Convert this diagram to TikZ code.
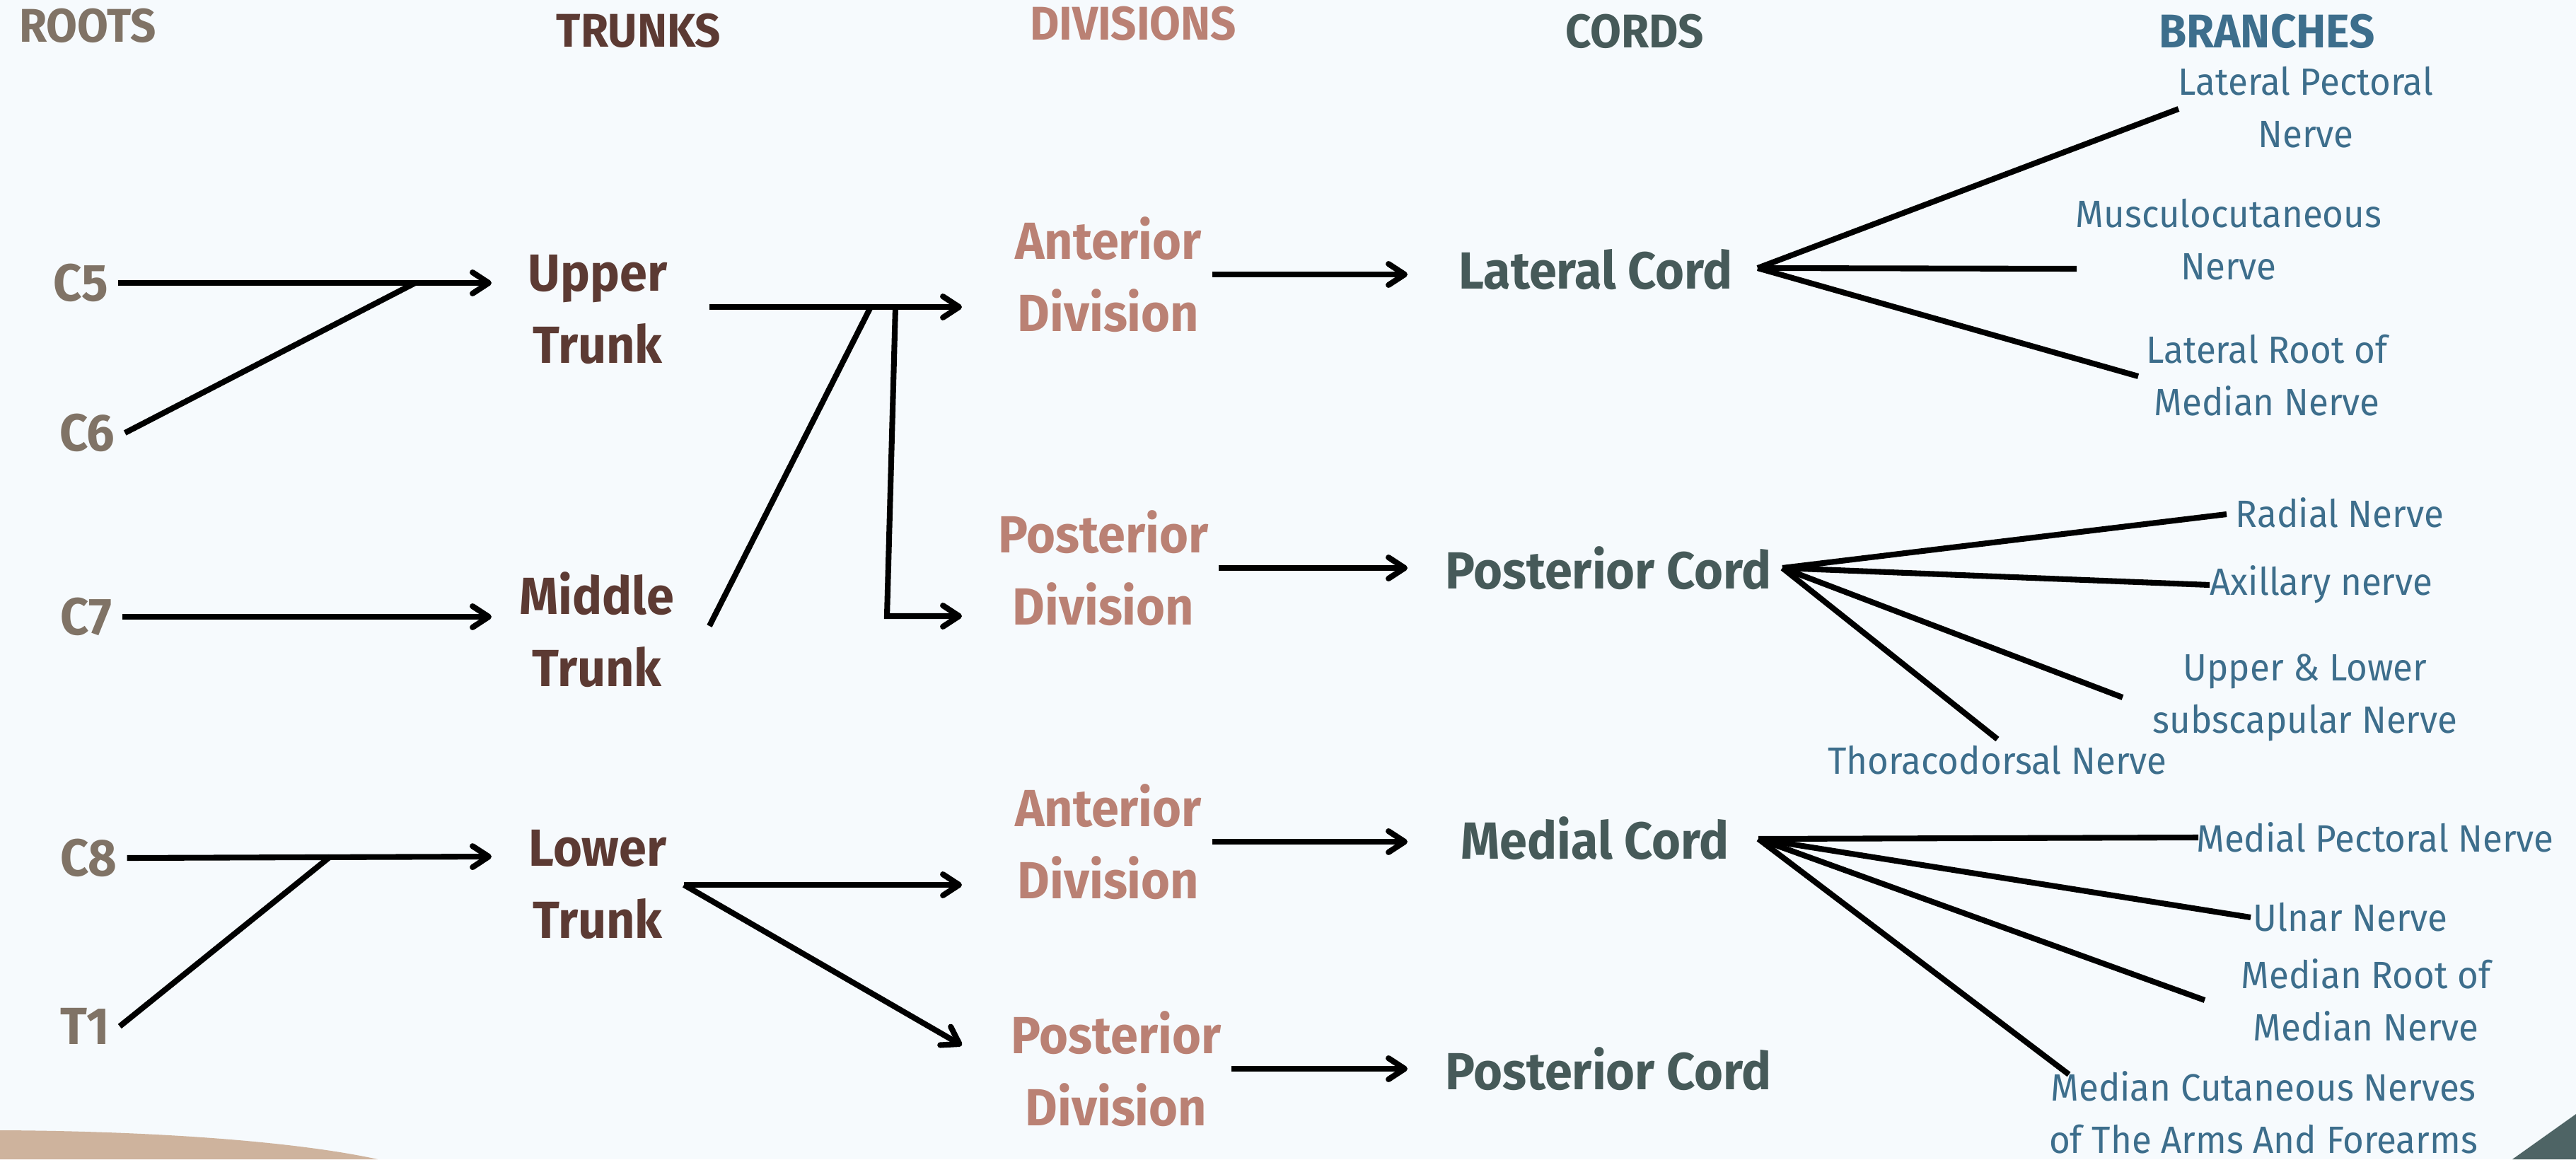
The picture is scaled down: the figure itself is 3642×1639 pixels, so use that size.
\documentclass[tikz,border=0pt]{standalone}
\usepackage{fontspec}
\setmainfont{Fira Sans}[FakeStretch=0.95]
\usepackage{tikz}
\usetikzlibrary{positioning,arrows.meta,calc}
\usepackage{xcolor}
\definecolor{PaperBlue}{HTML}{F6FAFD}
\definecolor{RootGrey}{HTML}{807366}
\definecolor{TrunkBrown}{HTML}{5C3A33}
\definecolor{DivisionRose}{HTML}{BA8174}
\definecolor{CordSlate}{HTML}{465A59}
\definecolor{BranchBlue}{HTML}{3D6E8C}
\definecolor{SandBeige}{HTML}{CEB39D}
\definecolor{CornerSlate}{HTML}{4E6465}

\begin{document}
\begin{tikzpicture}[x=0.01cm, y=-0.01cm,
    heading/.style={font=\bfseries\fontsize{19}{23}\selectfont, inner sep=0pt},
    stage/.style={font=\bfseries\fontsize{21}{29}\selectfont, align=center, inner sep=4pt},
    branch/.style={font=\fontsize{15.3}{21}\selectfont, text=BranchBlue, align=center, inner sep=0pt},
    nerve/.style={line width=2.3pt},
    feed/.style={line width=2.3pt, -{Straight Barb[length=6.5pt, width=8.5pt, round]}}]
  \fill[PaperBlue] (0, 0) rectangle (3642, 1639);
  \useasboundingbox (0, 0) rectangle (3642, 1639);
  \fill[SandBeige] (0, 1598) .. controls (220, 1599) and (420, 1614) .. (534, 1639) -- (0, 1639) -- cycle;
  \fill[CornerSlate] (3552, 1639) -- (3642, 1575) -- (3642, 1639) -- cycle;

  \node[heading, text=RootGrey] (h0) at (124, 36) {ROOTS};
  \node[heading, text=TrunkBrown] (h1) at (903, 43) {TRUNKS};
  \node[heading, text=DivisionRose] (h2) at (1602, 33) {DIVISIONS};
  \node[heading, text=CordSlate] (h3) at (2311, 44) {CORDS};
  \node[heading, text=BranchBlue] (h4) at (3205, 44) {BRANCHES};

  \node[stage, text=RootGrey] (r1) at (114, 400) {C5};
  \node[stage, text=RootGrey] (r2) at (123, 612) {C6};
  \node[stage, text=RootGrey] (r3) at (122, 872) {C7};
  \node[stage, text=RootGrey] (r4) at (125, 1213) {C8};
  \node[stage, text=RootGrey] (r5) at (120, 1451) {T1};

  \node[stage, text=TrunkBrown] (t1) at (845, 438) {Upper\\Trunk};
  \node[stage, text=TrunkBrown] (t2) at (844, 890) {Middle\\Trunk};
  \node[stage, text=TrunkBrown] (t3) at (845, 1251) {Lower\\Trunk};

  \node[stage, text=DivisionRose] (d1) at (1567, 388) {Anterior\\Division};
  \node[stage, text=DivisionRose] (d2) at (1560, 803) {Posterior\\Division};
  \node[stage, text=DivisionRose] (d3) at (1567, 1190) {Anterior\\Division};
  \node[stage, text=DivisionRose] (d4) at (1578, 1511) {Posterior\\Division};

  \node[stage, text=CordSlate] (c1) at (2256, 381) {Lateral Cord};
  \node[stage, text=CordSlate] (c2) at (2274, 803) {Posterior Cord};
  \node[stage, text=CordSlate] (c3) at (2255, 1185) {Medial Cord};
  \node[stage, text=CordSlate] (c4) at (2274, 1511) {Posterior Cord};

  \node[branch] (b11) at (3260, 152) {Lateral Pectoral\\Nerve};
  \node[branch] (b12) at (3151, 339) {Musculocutaneous\\Nerve};
  \node[branch] (b13) at (3205, 531) {Lateral Root of\\Median Nerve};
  \node[branch] (b21) at (3308, 725) {Radial Nerve};
  \node[branch] (b22) at (3282, 826) {Axillary nerve};
  \node[branch] (b23) at (3259, 986) {Upper \& Lower\\subscapular Nerve};
  \node[branch] (b24) at (2824, 1075) {Thoracodorsal Nerve};
  \node[branch] (b31) at (3358, 1184) {Medial Pectoral Nerve};
  \node[branch] (b32) at (3323, 1297) {Ulnar Nerve};
  \node[branch] (b33) at (3345, 1414) {Median Root of\\Median Nerve};
  \node[branch] (b34) at (3200, 1573) {Median Cutaneous Nerves\\of The Arms And Forearms};

  \coordinate (j1) at (587, 400);
  \coordinate (j2) at (467, 1211);
  \coordinate (t1in) at (695, 400);
  \coordinate (t2in) at (695, 872);
  \coordinate (t3in) at (695, 1211);
  \draw[feed] (r1.east) -- (t1in);
  \draw[nerve] (r2.east) -- (j1);
  \draw[feed] (r3.east) -- (t2in);
  \draw[feed] (r4.east) -- (t3in);
  \draw[nerve] (r5.east) -- (j2);

  \coordinate (t1out) at (1003, 434);
  \coordinate (t2out) at (1003, 885);
  \coordinate (t3out) at (967, 1251);
  \coordinate (j3) at (1231, 434);
  \coordinate (j4) at (1266, 434);
  \coordinate (j5) at (1254, 871);
  \coordinate (d1in) at (1360, 434);
  \coordinate (d2in) at (1360, 871);
  \coordinate (d3in) at (1360, 1251);
  \coordinate (d4in) at (1360, 1478);
  \draw[feed] (t1out) -- (d1in);
  \draw[nerve] (t2out) -- (j3);
  \draw[feed] (j4) -- (j5) -- (d2in);
  \draw[feed] (t3out) -- (d3in);
  \draw[feed] (t3out) -- (d4in);

  \coordinate (c1in) at (1990, 388);
  \coordinate (c2in) at (1990, 803);
  \coordinate (c3in) at (1990, 1190);
  \coordinate (c4in) at (1990, 1511);
  \draw[feed] (d1.east) -- (c1in);
  \draw[feed] (d2.east) -- (c2in);
  \draw[feed] (d3.east) -- (c3in);
  \draw[feed] (d4.east) -- (c4in);

  \coordinate (c1out) at (2485, 379);
  \coordinate (b11in) at (3080, 154);
  \coordinate (b12in) at (2936, 380);
  \coordinate (b13in) at (3023, 532);
  \draw[nerve] (c1out) -- (b11in);
  \draw[nerve] (c1out) -- (b12in);
  \draw[nerve] (c1out) -- (b13in);

  \coordinate (c2out) at (2520, 803);
  \coordinate (b21in) at (3148, 727);
  \coordinate (b22in) at (3124, 827);
  \coordinate (b23in) at (3001, 986);
  \coordinate (b24in) at (2824, 1045);
  \draw[nerve] (c2out) -- (b21in);
  \draw[nerve] (c2out) -- (b22in);
  \draw[nerve] (c2out) -- (b23in);
  \draw[nerve] (c2out) -- (b24in);

  \coordinate (c3out) at (2486, 1186);
  \coordinate (b31in) at (3108, 1184);
  \coordinate (b32in) at (3182, 1297);
  \coordinate (b33in) at (3117, 1414);
  \coordinate (b34in) at (2925, 1519);
  \draw[nerve] (c3out) -- (b31in);
  \draw[nerve] (c3out) -- (b32in);
  \draw[nerve] (c3out) -- (b33in);
  \draw[nerve] (c3out) -- (b34in);
\end{tikzpicture}
\end{document}
